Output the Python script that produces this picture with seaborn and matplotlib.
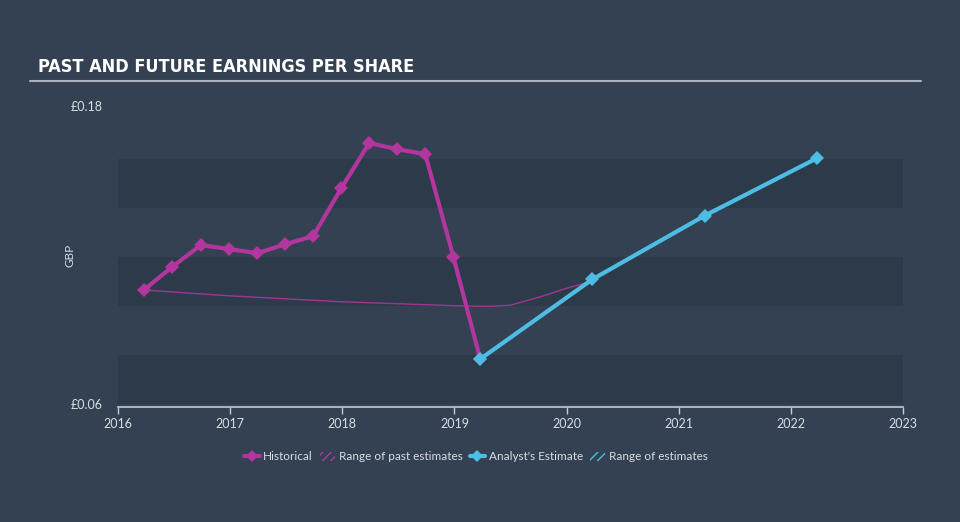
import matplotlib
matplotlib.use("Agg")
import matplotlib.pyplot as plt
import seaborn as sns
import pandas as pd
from matplotlib.lines import Line2D
from matplotlib.patches import Patch

# ---- data (decimal years, GBP) ----
hist_dates = [2016.23, 2016.48, 2016.74, 2016.99, 2017.24, 2017.49, 2017.74,
              2017.99, 2018.24, 2018.49, 2018.74, 2018.99, 2019.23]
hist_eps = [0.1059, 0.1151, 0.1240, 0.1224, 0.1207, 0.1243, 0.1276,
            0.1468, 0.1651, 0.1626, 0.1606, 0.1193, 0.0781]
est_dates = [2019.23, 2020.23, 2021.23, 2022.23]
est_eps = [0.0781, 0.1102, 0.1358, 0.1589]
past_est_dates = [2016.23, 2016.98, 2017.98, 2018.99, 2019.30, 2019.50,
                  2019.77, 2020.00, 2020.19]
past_est_eps = [0.1059, 0.1036, 0.1012, 0.0996, 0.0993, 0.0998,
                0.1032, 0.1066, 0.1090]
x_ticks = [2016, 2017, 2018, 2019, 2020, 2021, 2022, 2023]
y_ticks = [0.06, 0.18]
y_tick_labels = ["£0.06", "£0.18"]
title = "PAST AND FUTURE EARNINGS PER SHARE"
legend_labels = ["Historical", "Range of past estimates",
                 "Analyst's Estimate", "Range of estimates"]

BG = "#334152"
BAND = "#2d3a4a"
MAG = "#b2369d"
CYAN = "#4dbde4"
TXT = "#d8dde3"
AXC = "#c2cad3"

sns.set_theme(style="dark")
plt.rcParams["font.family"] = ["Lato", "DejaVu Sans"]

fig = plt.figure(figsize=(9.6, 5.22), dpi=100, facecolor=BG)
ax = fig.add_axes([118 / 960, 1 - 404 / 522, 785 / 960, 298 / 522])
ax.set_facecolor("none")

# alternating bands
band_h = 0.0197
for k in (0, 2, 4):
    ax.axhspan(0.06 + k * band_h, 0.06 + (k + 1) * band_h,
               color=BAND, zorder=0, lw=0)

df_h = pd.DataFrame({"date": hist_dates, "eps": hist_eps})
df_e = pd.DataFrame({"date": est_dates, "eps": est_eps})
df_p = pd.DataFrame({"date": past_est_dates, "eps": past_est_eps})

sns.lineplot(data=df_p, x="date", y="eps", ax=ax, color=MAG, lw=1.0,
             alpha=0.85, sort=False, zorder=2)
sns.lineplot(data=df_h, x="date", y="eps", ax=ax, color=MAG, lw=3.0,
             marker="D", markersize=7, markeredgewidth=0, sort=False, zorder=3)
sns.lineplot(data=df_e, x="date", y="eps", ax=ax, color=CYAN, lw=3.0,
             marker="D", markersize=7, markeredgewidth=0, sort=False, zorder=4)

ax.set_xlim(2016, 2023)
ax.set_ylim(0.06, 0.18)
ax.set_xticks(x_ticks)
ax.set_xticklabels([str(t) for t in x_ticks])
ax.set_yticks(y_ticks)
ax.set_yticklabels(y_tick_labels)
ax.tick_params(axis="x", colors=AXC, labelcolor=TXT, labelsize=9,
               length=5, width=1, direction="out", bottom=True, pad=3)
ax.tick_params(axis="y", length=0, labelcolor=TXT, labelsize=9, pad=11)
ax.set_xlabel("")
ax.set_ylabel("GBP", color=TXT, fontsize=8.5)
ax.yaxis.set_label_coords((75 - 118) / 785, 0.5)
ax.grid(False)
for s in ("top", "right", "left"):
    ax.spines[s].set_visible(False)
ax.spines["bottom"].set_color(AXC)
ax.spines["bottom"].set_linewidth(1.2)
ax.spines["bottom"].set_position(("outward", 2))

# title and underline
fig.text(38 / 960, 1 - 67 / 522, title, color="white", fontsize=13,
         fontweight="bold", fontstretch="condensed", va="center", ha="left",
         family=["DejaVu Sans"])
fig.add_artist(Line2D([30 / 960, 921 / 960], [1 - 81 / 522, 1 - 81 / 522],
                      color="#aab3bd", lw=1.5))

handles = [
    Line2D([0], [0], color=MAG, lw=3, marker="D", markersize=6, markeredgewidth=0),
    Patch(facecolor="none", edgecolor=MAG, hatch="////", lw=0),
    Line2D([0], [0], color=CYAN, lw=3, marker="D", markersize=6, markeredgewidth=0),
    Patch(facecolor="none", edgecolor=CYAN, hatch="////", lw=0),
]
leg = fig.legend(handles, legend_labels, loc="center", ncol=4,
                 bbox_to_anchor=(476 / 960, 1 - 457 / 522), frameon=False,
                 fontsize=8.5, labelcolor=TXT, handlelength=1.3,
                 handletextpad=0.3, columnspacing=0.6, handleheight=0.8)

fig.savefig("out.png", dpi=100, facecolor=BG)
